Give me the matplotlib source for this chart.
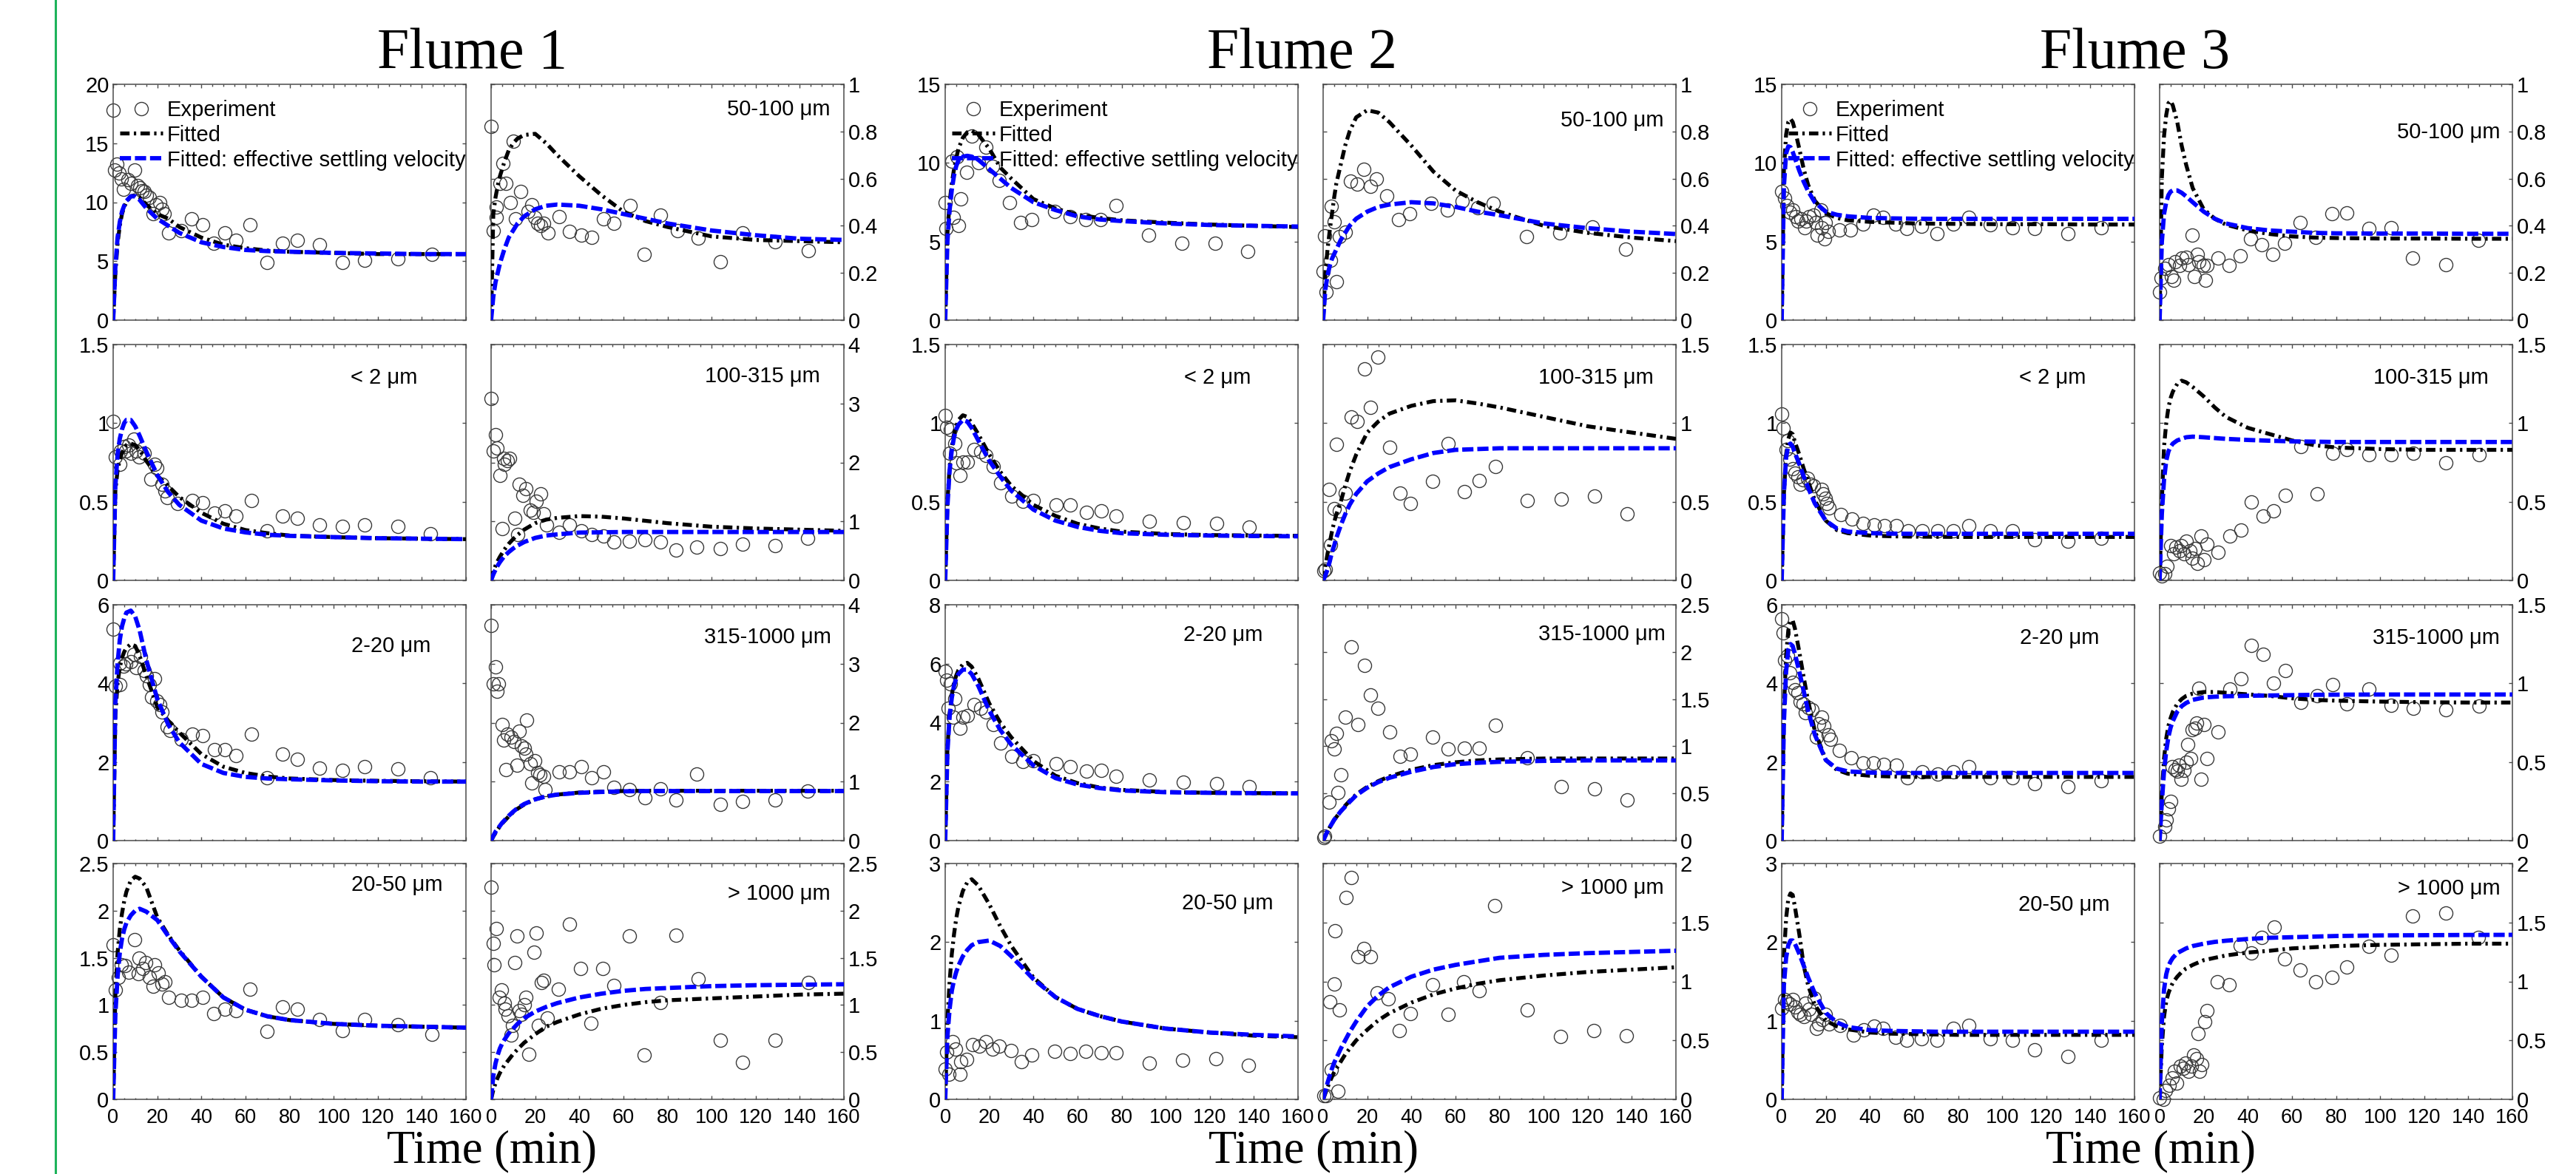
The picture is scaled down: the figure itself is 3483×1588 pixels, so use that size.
import matplotlib
matplotlib.use('Agg')
import matplotlib.pyplot as plt
from matplotlib.lines import Line2D
from matplotlib.ticker import MultipleLocator, FuncFormatter

plt.rcParams['font.family'] = ['Liberation Sans', 'DejaVu Sans']

# times of the fitted curves (min)
t_fit = [0, 1, 2, 3, 4, 5, 6, 8, 10, 12, 15, 20, 25, 30, 40, 50, 60, 70, 80, 100, 120, 140, 160]

# ---------------- Flume 1 ----------------
f1_total_exp = [(0, 17.8), (0.7, 12.7), (1.7, 13.2), (2.7, 12.5), (3.7, 12.0), (4.7, 11.1), (6.8, 11.9), (8, 11.6),
                (9.8, 12.7), (11, 11.4), (12, 11.2), (13, 11.0), (14, 10.9), (15, 10.6), (16.6, 10.4), (18, 9.0),
                (19.5, 9.8), (21, 10.0), (22, 9.4), (23, 9.0), (25, 7.4), (31, 7.6), (35.4, 8.6), (40.5, 8.1),
                (45.5, 6.5), (50.5, 7.4), (55.6, 6.8), (62, 8.1), (69.7, 4.9), (76.8, 6.5), (83.6, 6.8), (93.5, 6.4),
                (104, 4.9), (114, 5.1), (129, 5.2), (144.5, 5.6)]
f1_total_fit = [0, 4.0, 6.5, 8.0, 9.0, 9.6, 10.0, 10.5, 10.6, 10.4, 9.8, 9.0, 8.6, 7.9, 7.0, 6.4, 6.1, 5.9, 5.8, 5.7, 5.6, 5.6, 5.6]
f1_total_eff = [0, 4.5, 7.0, 8.3, 9.2, 9.7, 10.1, 10.5, 10.5, 10.2, 9.5, 8.6, 8.0, 7.4, 6.6, 6.2, 5.95, 5.85, 5.8, 5.7, 5.65, 5.6, 5.6]

f1_50_exp = [(0, 0.82), (1, 0.38), (2.2, 0.48), (2.2, 0.435), (4.1, 0.58), (5.2, 0.665), (6.6, 0.58), (8.6, 0.5),
             (10, 0.76), (11.1, 0.43), (13.4, 0.545), (16.9, 0.46), (18.6, 0.49), (19.9, 0.435), (21.2, 0.41),
             (22.4, 0.4), (23.7, 0.41), (25.7, 0.37), (30.7, 0.44), (35.6, 0.375), (40.8, 0.36), (45.6, 0.35),
             (50.9, 0.43), (55.7, 0.41), (62.9, 0.487), (69.6, 0.28), (76.8, 0.446), (84.4, 0.378), (93.8, 0.347),
             (104, 0.248), (114, 0.37), (128.7, 0.332), (144, 0.295)]
f1_50_fit = [0, 0.45, 0.52, 0.57, 0.61, 0.64, 0.67, 0.72, 0.75, 0.77, 0.785, 0.79, 0.75, 0.70, 0.61, 0.53, 0.46, 0.42, 0.395, 0.355, 0.34, 0.335, 0.33]
f1_50_eff = [0, 0.1, 0.16, 0.2, 0.24, 0.27, 0.3, 0.35, 0.38, 0.41, 0.44, 0.47, 0.485, 0.49, 0.485, 0.47, 0.45, 0.43, 0.41, 0.38, 0.36, 0.345, 0.34]

f1_lt2_exp = [(0, 1.01), (1.1, 0.785), (3, 0.74), (3.4, 0.825), (5.1, 0.85), (5.8, 0.825), (7, 0.86), (8.1, 0.81),
              (9.4, 0.9), (10.5, 0.825), (11.7, 0.785), (14.1, 0.81), (17, 0.645), (18.8, 0.74), (19.9, 0.715),
              (22.3, 0.61), (23.5, 0.57), (24.6, 0.525), (29.3, 0.487), (36, 0.51), (40.7, 0.495), (45.8, 0.43),
              (50.6, 0.44), (55.8, 0.41), (62.8, 0.51), (69.9, 0.314), (76.9, 0.41), (83.6, 0.393), (93.5, 0.353),
              (104, 0.345), (114, 0.353), (129, 0.345), (144, 0.298)]
f1_lt2_fit = [0, 0.57, 0.7, 0.77, 0.81, 0.84, 0.86, 0.87, 0.86, 0.83, 0.76, 0.665, 0.6, 0.53, 0.43, 0.36, 0.32, 0.3, 0.285, 0.275, 0.268, 0.265, 0.262]
f1_lt2_eff = [0, 0.6, 0.8, 0.9, 0.96, 1.0, 1.02, 1.02, 0.98, 0.92, 0.82, 0.67, 0.56, 0.48, 0.38, 0.33, 0.305, 0.29, 0.283, 0.275, 0.268, 0.265, 0.262]

f1_100_exp = [(0, 3.08), (0.9, 2.2), (1.9, 2.47), (2.8, 2.24), (3.9, 1.78), (5, 0.88), (5.6, 2.07), (6.1, 1.97),
              (7.3, 2.03), (8.5, 2.07), (10.9, 1.05), (12, 0.775), (12.7, 1.63), (14.4, 1.445), (15.6, 1.55),
              (17.9, 1.19), (19.1, 1.15), (20.3, 1.34), (22.6, 1.47), (23.8, 1.13), (25, 0.94), (30.9, 0.82),
              (35.6, 0.94), (41, 0.84), (45.7, 0.775), (50.9, 0.75), (55.6, 0.65), (62.7, 0.67), (69.7, 0.69),
              (76.8, 0.65), (83.9, 0.52), (93.3, 0.565), (104, 0.545), (114, 0.61), (128.8, 0.586), (143.6, 0.71)]
f1_100_fit = [0, 0.15, 0.25, 0.33, 0.4, 0.46, 0.52, 0.62, 0.7, 0.77, 0.86, 0.97, 1.03, 1.06, 1.09, 1.08, 1.05, 1.01, 0.97, 0.91, 0.88, 0.86, 0.84]
f1_100_eff = [0, 0.1, 0.18, 0.25, 0.31, 0.36, 0.41, 0.48, 0.54, 0.59, 0.65, 0.72, 0.76, 0.78, 0.81, 0.815, 0.82, 0.82, 0.82, 0.82, 0.82, 0.82, 0.82]

f1_2_20_exp = [(0, 5.37), (1.1, 3.93), (3, 3.96), (3, 4.52), (4.6, 4.43), (5.8, 4.5), (8.1, 4.55), (9.4, 4.74),
               (10.5, 4.4), (12.4, 4.68), (14.1, 4.33), (15.2, 4.2), (16.4, 3.96), (17.5, 3.64), (18.8, 4.12),
               (19.9, 3.55), (21.1, 3.46), (22.3, 3.27), (24.6, 2.89), (25.8, 2.8), (31, 2.58), (36, 2.7),
               (40.7, 2.67), (45.8, 2.32), (50.6, 2.32), (55.8, 2.17), (62.8, 2.7), (69.9, 1.6), (76.9, 2.2),
               (83.6, 2.07), (93.5, 1.85), (104, 1.79), (114, 1.88), (129, 1.82), (144, 1.6)]
f1_2_20_fit = [0, 3.2, 4.0, 4.4, 4.65, 4.8, 4.9, 5.0, 4.95, 4.7, 4.2, 3.4, 3.05, 2.75, 2.2, 1.88, 1.72, 1.63, 1.58, 1.54, 1.52, 1.51, 1.5]
f1_2_20_eff = [0, 3.5, 4.5, 5.1, 5.45, 5.65, 5.8, 5.85, 5.7, 5.35, 4.6, 3.6, 2.95, 2.5, 1.95, 1.72, 1.62, 1.58, 1.56, 1.53, 1.51, 1.5, 1.5]

f1_315_exp = [(0, 3.65), (0.9, 2.66), (1.9, 2.95), (2.8, 2.53), (3.3, 2.66), (5, 1.97), (5.6, 1.7), (6.7, 1.21),
              (7.3, 1.8), (9.2, 1.76), (10.4, 1.68), (11.6, 1.28), (12.7, 1.86), (13.6, 1.61), (15.1, 1.57),
              (15.6, 1.47), (16.2, 2.05), (17.9, 1.3), (18.4, 0.98), (19.8, 1.36), (21, 1.15), (22, 1.11),
              (23.8, 1.09), (24.5, 0.86), (30.9, 1.17), (35.6, 1.17), (41, 1.26), (45.7, 1.07), (50.9, 1.17),
              (55.6, 0.9), (62.7, 0.86), (69.7, 0.73), (76.8, 0.88), (83.9, 0.69), (93.3, 1.13), (104, 0.61),
              (114, 0.67), (128.8, 0.69), (143.6, 0.84)]
f1_315_fit = [0, 0.07, 0.13, 0.19, 0.24, 0.29, 0.33, 0.41, 0.48, 0.54, 0.61, 0.7, 0.75, 0.78, 0.815, 0.83, 0.84, 0.845, 0.845, 0.845, 0.845, 0.845, 0.845]
f1_315_eff = [0, 0.08, 0.15, 0.2, 0.25, 0.3, 0.34, 0.42, 0.49, 0.55, 0.62, 0.7, 0.75, 0.78, 0.81, 0.825, 0.835, 0.84, 0.84, 0.84, 0.84, 0.84, 0.84]

f1_20_50_exp = [(0, 1.64), (1, 1.16), (2.2, 1.29), (3.7, 1.43), (5.4, 1.42), (7.2, 1.35), (9.8, 1.69), (11.3, 1.33),
                (11.8, 1.5), (13.3, 1.39), (14.8, 1.45), (16.4, 1.29), (18, 1.2), (18.9, 1.43), (20.6, 1.34),
                (22, 1.22), (23.4, 1.25), (25, 1.08), (31, 1.05), (35.4, 1.05), (40.5, 1.08), (45.5, 0.91),
                (50.5, 0.96), (55.6, 0.94), (62, 1.17), (69.7, 0.72), (76.8, 0.98), (83.6, 0.96), (93.5, 0.85),
                (104, 0.73), (114, 0.85), (129, 0.79), (144.5, 0.69)]
f1_20_50_fit = [0, 1.1, 1.55, 1.8, 1.97, 2.1, 2.2, 2.32, 2.36, 2.34, 2.25, 1.93, 1.74, 1.58, 1.3, 1.08, 0.95, 0.88, 0.84, 0.8, 0.78, 0.77, 0.76]
f1_20_50_eff = [0, 0.9, 1.3, 1.55, 1.7, 1.8, 1.87, 1.95, 2.0, 2.02, 1.99, 1.9, 1.73, 1.57, 1.3, 1.08, 0.95, 0.88, 0.84, 0.8, 0.78, 0.77, 0.76]

f1_1000_exp = [(0, 2.25), (1, 1.65), (1.5, 1.43), (2.5, 1.81), (3.8, 1.08), (4.6, 1.16), (6, 1.02), (6.5, 0.96),
               (7.6, 0.885), (9.1, 0.68), (9.6, 0.78), (10.8, 1.45), (11.6, 1.73), (12.6, 0.94), (13.8, 0.9),
               (15.1, 1.0), (15.9, 1.08), (17.1, 0.48), (19.6, 1.56), (20.4, 1.76), (21.6, 0.78), (22.7, 1.24),
               (23.7, 1.26), (25.4, 0.86), (30.6, 1.17), (35.4, 1.86), (40.6, 1.39), (45.4, 0.81), (50.6, 1.39),
               (55.7, 1.21), (62.8, 1.73), (69.6, 0.47), (76.8, 1.03), (83.8, 1.74), (93.8, 1.28), (104, 0.625),
               (114, 0.39), (128.7, 0.625), (144, 1.24)]
f1_1000_fit = [0, 0.1, 0.17, 0.23, 0.28, 0.32, 0.36, 0.42, 0.48, 0.53, 0.6, 0.69, 0.77, 0.82, 0.9, 0.96, 1.0, 1.03, 1.05, 1.07, 1.09, 1.11, 1.12]
f1_1000_eff = [0, 0.25, 0.38, 0.47, 0.54, 0.59, 0.63, 0.7, 0.75, 0.8, 0.86, 0.93, 0.98, 1.02, 1.08, 1.12, 1.15, 1.17, 1.18, 1.2, 1.21, 1.215, 1.22]

# ---------------- Flume 2 ----------------
f2_total_exp = [(0, 7.5), (0.4, 5.85), (2.9, 10.1), (3.6, 6.55), (5.2, 10.4), (6, 6.0), (7, 7.7), (9.7, 9.4),
                (12.2, 11.7), (15.2, 10.0), (18.4, 11.0), (21.4, 9.8), (24.4, 8.9), (29.3, 7.5), (34.3, 6.2),
                (39.3, 6.4), (49.5, 6.9), (56.7, 6.6), (63.6, 6.4), (70.5, 6.4), (77.5, 7.3), (92.3, 5.4),
                (107.4, 4.9), (122.3, 4.9), (137.2, 4.35)]
f2_total_fit = [0, 5.5, 7.5, 8.7, 9.6, 10.3, 10.9, 11.6, 11.95, 12.05, 11.8, 10.9, 9.7, 9.0, 7.7, 7.1, 6.7, 6.5, 6.35, 6.2, 6.08, 6.0, 5.92]
f2_total_eff = [0, 5.0, 7.0, 8.3, 9.2, 9.8, 10.15, 10.4, 10.45, 10.4, 10.2, 9.6, 9.0, 8.4, 7.5, 7.0, 6.6, 6.4, 6.3, 6.15, 6.05, 6.0, 5.95]

f2_50_exp = [(0, 0.206), (0.7, 0.358), (1.2, 0.12), (3.2, 0.253), (3.7, 0.484), (4.9, 0.416), (6.2, 0.164),
             (7.4, 0.353), (9.9, 0.374), (12.4, 0.588), (15.4, 0.578), (18.6, 0.64), (21.5, 0.568), (24, 0.6),
             (29, 0.526), (34.2, 0.426), (39.1, 0.452), (49, 0.494), (56.2, 0.468), (63.2, 0.505), (70.1, 0.478),
             (77, 0.494), (92.2, 0.353), (107.3, 0.369), (122.2, 0.395), (137.1, 0.3)]
f2_50_fit = [0, 0.2, 0.3, 0.38, 0.45, 0.52, 0.58, 0.66, 0.74, 0.8, 0.86, 0.89, 0.88, 0.84, 0.74, 0.63, 0.55, 0.5, 0.46, 0.4, 0.37, 0.35, 0.335]
f2_50_eff = [0, 0.13, 0.19, 0.23, 0.26, 0.28, 0.3, 0.34, 0.37, 0.4, 0.43, 0.46, 0.48, 0.49, 0.5, 0.495, 0.48, 0.46, 0.445, 0.41, 0.39, 0.375, 0.365]

f2_lt2_exp = [(0, 1.05), (0.7, 0.975), (1.9, 0.81), (2.2, 0.96), (4.4, 0.87), (4.9, 0.746), (6.8, 0.668), (8, 0.754),
              (10.1, 0.754), (13.1, 0.83), (16, 0.817), (18.6, 0.793), (21.9, 0.723), (25, 0.62), (30.2, 0.534),
              (35.1, 0.503), (39.8, 0.51), (50.2, 0.479), (56.8, 0.479), (63.9, 0.432), (70.9, 0.44), (77.5, 0.408),
              (92.6, 0.377), (107.9, 0.369), (123, 0.361), (137.8, 0.338)]
f2_lt2_fit = [0, 0.5, 0.72, 0.85, 0.93, 0.98, 1.02, 1.05, 1.04, 1.0, 0.93, 0.8, 0.69, 0.6, 0.48, 0.41, 0.36, 0.33, 0.31, 0.295, 0.288, 0.285, 0.283]
f2_lt2_eff = [0, 0.47, 0.7, 0.83, 0.91, 0.96, 0.99, 1.02, 1.01, 0.97, 0.89, 0.76, 0.66, 0.57, 0.45, 0.38, 0.34, 0.315, 0.3, 0.29, 0.285, 0.282, 0.28]

f2_100_exp = [(0.5, 0.06), (0.9, 0.07), (2.7, 0.58), (3.2, 0.228), (5.1, 0.455), (6, 0.864), (7.4, 0.44), (10.2, 0.557),
              (12.6, 1.037), (15.4, 1.013), (18.9, 1.343), (21.5, 1.1), (24.8, 1.42), (30.2, 0.848), (34.9, 0.557),
              (39.6, 0.487), (49.7, 0.628), (56.8, 0.872), (63.9, 0.565), (70.7, 0.636), (78, 0.723), (92.6, 0.51),
              (107.9, 0.518), (123.2, 0.534), (138, 0.424)]
f2_100_fit = [0, 0.09, 0.17, 0.24, 0.31, 0.37, 0.42, 0.5, 0.6, 0.69, 0.8, 0.94, 1.01, 1.06, 1.11, 1.14, 1.145, 1.125, 1.1, 1.04, 0.98, 0.94, 0.9]
f2_100_eff = [0, 0.03, 0.07, 0.12, 0.18, 0.22, 0.27, 0.35, 0.42, 0.48, 0.55, 0.63, 0.68, 0.72, 0.77, 0.81, 0.83, 0.835, 0.84, 0.84, 0.84, 0.84, 0.84]

f2_2_20_exp = [(0, 5.74), (0.7, 5.44), (1.4, 4.48), (2.2, 5.32), (3.8, 4.19), (4.4, 4.82), (6.8, 3.81), (8, 4.19),
               (10.1, 4.23), (13.1, 4.61), (16, 4.48), (18.6, 4.36), (21.9, 3.94), (25, 3.31), (30.2, 2.85),
               (35.1, 2.68), (39.8, 2.72), (50.2, 2.6), (56.8, 2.51), (63.9, 2.35), (70.9, 2.39), (77.5, 2.18),
               (92.6, 2.05), (107.9, 1.97), (123, 1.93), (137.8, 1.84)]
f2_2_20_fit = [0, 3.1, 4.3, 4.95, 5.35, 5.6, 5.78, 5.98, 6.03, 5.9, 5.5, 4.65, 4.0, 3.5, 2.7, 2.2, 1.95, 1.8, 1.72, 1.65, 1.62, 1.61, 1.6]
f2_2_20_eff = [0, 3.0, 4.2, 4.85, 5.25, 5.5, 5.65, 5.8, 5.8, 5.65, 5.25, 4.4, 3.75, 3.25, 2.55, 2.12, 1.9, 1.78, 1.7, 1.64, 1.62, 1.61, 1.6]

f2_315_exp = [(0.5, 0.03), (0.8, 0.05), (2.7, 0.406), (3.7, 1.06), (5.1, 0.97), (6, 1.14), (6.8, 0.51), (7.9, 0.694),
              (10.2, 1.31), (12.6, 2.05), (15.6, 1.23), (18.9, 1.86), (21.5, 1.54), (24.8, 1.4), (30.2, 1.15),
              (34.9, 0.89), (39.6, 0.916), (49.7, 1.1), (56.8, 0.97), (63.9, 0.98), (70.7, 0.98), (78, 1.22),
              (92.6, 0.877), (107.9, 0.576), (123.2, 0.55), (138, 0.43)]
f2_315_fit = [0, 0.05, 0.1, 0.14, 0.18, 0.22, 0.25, 0.31, 0.37, 0.42, 0.49, 0.57, 0.63, 0.68, 0.75, 0.8, 0.83, 0.85, 0.86, 0.87, 0.87, 0.87, 0.87]
f2_315_eff = [0, 0.05, 0.1, 0.14, 0.18, 0.22, 0.25, 0.31, 0.36, 0.41, 0.48, 0.56, 0.62, 0.665, 0.73, 0.78, 0.81, 0.825, 0.835, 0.845, 0.85, 0.85, 0.85]

f2_20_50_exp = [(0, 0.386), (0.7, 0.6), (1.7, 0.32), (3.2, 0.73), (4.7, 0.64), (6.7, 0.32), (7.2, 0.48), (9.7, 0.51),
                (12.4, 0.7), (15.4, 0.68), (18.6, 0.73), (21.6, 0.64), (24.6, 0.68), (29.8, 0.62), (34.4, 0.48),
                (39.4, 0.56), (49.6, 0.61), (56.8, 0.58), (63.7, 0.61), (70.7, 0.59), (77.6, 0.59), (92.6, 0.46),
                (107.7, 0.5), (122.6, 0.52), (137.5, 0.43)]
f2_20_50_fit = [0, 1.0, 1.5, 1.85, 2.1, 2.3, 2.45, 2.65, 2.76, 2.8, 2.72, 2.48, 2.2, 1.95, 1.55, 1.3, 1.15, 1.06, 0.99, 0.9, 0.85, 0.81, 0.79]
f2_20_50_eff = [0, 0.8, 1.15, 1.38, 1.52, 1.62, 1.7, 1.82, 1.9, 1.96, 2.0, 2.02, 1.95, 1.82, 1.53, 1.3, 1.15, 1.06, 0.99, 0.9, 0.85, 0.82, 0.8]

f2_1000_exp = [(0.5, 0.03), (1.5, 0.03), (3, 0.83), (3.7, 0.25), (5, 0.98), (5.5, 1.43), (6.7, 0.07), (7.5, 0.76),
               (10.4, 1.71), (12.9, 1.88), (15.9, 1.21), (18.6, 1.28), (21.5, 1.21), (24.5, 0.9), (29.5, 0.85),
               (34.7, 0.58), (39.7, 0.73), (49.6, 0.97), (56.8, 0.72), (63.7, 1.0), (70.7, 0.92), (77.8, 1.64),
               (92.7, 0.76), (107.8, 0.535), (122.7, 0.58), (137.6, 0.54)]
f2_1000_fit = [0, 0.05, 0.1, 0.15, 0.19, 0.23, 0.26, 0.32, 0.38, 0.43, 0.5, 0.59, 0.67, 0.73, 0.82, 0.89, 0.94, 0.98, 1.01, 1.05, 1.08, 1.1, 1.12]
f2_1000_eff = [0, 0.07, 0.14, 0.2, 0.26, 0.31, 0.35, 0.43, 0.5, 0.57, 0.66, 0.79, 0.88, 0.95, 1.04, 1.1, 1.14, 1.17, 1.2, 1.225, 1.24, 1.25, 1.26]

# ---------------- Flume 3 ----------------
f3_total_exp = [(0, 8.17), (1.3, 7.77), (2.5, 7.3), (3.8, 6.85), (5, 6.99), (6.3, 6.6), (7.5, 6.29), (8.7, 6.44),
                (10.4, 5.89), (11, 6.3), (12.4, 6.6), (14.4, 6.68), (15.5, 6.2), (16.2, 5.42), (17.9, 6.99), (18, 5.9),
                (19.4, 5.19), (19.9, 6.2), (21.2, 5.66), (26.2, 5.74), (31.1, 5.74), (36.8, 6.13), (41.6, 6.68),
                (46, 6.52), (51.6, 6.13), (56.8, 5.82), (63.5, 5.97), (70.5, 5.5), (77.7, 6.13), (85, 6.52),
                (94.6, 6.08), (104.6, 5.89), (114.6, 5.82), (129.7, 5.5), (145, 5.89)]
f3_total_fit = [0, 9.5, 11.8, 12.6, 12.8, 12.6, 12.1, 10.9, 9.6, 8.6, 7.6, 6.8, 6.5, 6.35, 6.25, 6.2, 6.15, 6.13, 6.12, 6.1, 6.1, 6.08, 6.08]
f3_total_eff = [0, 8.5, 10.6, 11.05, 11.0, 10.7, 10.3, 9.5, 8.8, 8.2, 7.5, 6.9, 6.7, 6.6, 6.5, 6.47, 6.45, 6.44, 6.44, 6.44, 6.44, 6.44, 6.44]

f3_50_exp = [(0, 0.12), (0.8, 0.18), (2.2, 0.22), (3.9, 0.236), (5.2, 0.184), (6.4, 0.168), (7.2, 0.247), (8.9, 0.231),
             (10.2, 0.262), (12.2, 0.268), (13.2, 0.236), (14.7, 0.362), (15.7, 0.184), (17.2, 0.278), (17.7, 0.247),
             (19.7, 0.231), (20.7, 0.168), (21.4, 0.231), (26.4, 0.262), (31.4, 0.231), (36.4, 0.273), (41.4, 0.346),
             (46.4, 0.32), (51.4, 0.278), (56.8, 0.325), (63.8, 0.414), (70.8, 0.351), (78, 0.45), (85, 0.456),
             (94.9, 0.388), (104.9, 0.393), (114.8, 0.262), (129.8, 0.236), (144.7, 0.34)]
f3_50_fit = [0, 0.6, 0.78, 0.87, 0.92, 0.93, 0.91, 0.84, 0.74, 0.66, 0.56, 0.47, 0.43, 0.405, 0.38, 0.365, 0.355, 0.35, 0.348, 0.346, 0.346, 0.345, 0.345]
f3_50_eff = [0, 0.33, 0.45, 0.5, 0.53, 0.545, 0.55, 0.55, 0.54, 0.525, 0.5, 0.46, 0.43, 0.41, 0.39, 0.38, 0.375, 0.37, 0.368, 0.367, 0.367, 0.366, 0.366]

f3_lt2_exp = [(0, 1.06), (0.7, 0.97), (1.9, 0.83), (2.6, 0.89), (3.8, 0.77), (5, 0.71), (6.1, 0.68), (7.3, 0.66),
              (8.5, 0.61), (9.7, 0.64), (11.6, 0.65), (13.2, 0.61), (14.4, 0.6), (18, 0.58), (18.7, 0.55), (19.9, 0.52),
              (20.4, 0.49), (21.6, 0.46), (26.8, 0.42), (31.8, 0.39), (37, 0.36), (41.8, 0.355), (46.5, 0.35),
              (52, 0.35), (57.2, 0.315), (63.8, 0.315), (70.7, 0.315), (77.9, 0.315), (85, 0.35), (94.7, 0.315),
              (104.7, 0.315), (114.7, 0.26), (129.7, 0.25), (144.9, 0.27)]
f3_lt2_fit = [0, 0.55, 0.8, 0.9, 0.94, 0.93, 0.88, 0.8, 0.71, 0.63, 0.51, 0.38, 0.32, 0.3, 0.285, 0.28, 0.278, 0.277, 0.276, 0.276, 0.276, 0.276, 0.276]
f3_lt2_eff = [0, 0.55, 0.78, 0.86, 0.87, 0.85, 0.81, 0.74, 0.66, 0.59, 0.49, 0.38, 0.33, 0.31, 0.3, 0.297, 0.296, 0.296, 0.296, 0.296, 0.296, 0.296, 0.296]

f3_100_exp = [(0, 0.047), (1, 0.03), (2.2, 0.04), (3.4, 0.087), (5, 0.22), (6.5, 0.17), (7.4, 0.21), (8.9, 0.19),
              (9.8, 0.22), (11.2, 0.17), (12.2, 0.25), (13.6, 0.19), (14.6, 0.14), (16, 0.2), (17, 0.11), (18.9, 0.28),
              (20.1, 0.13), (21.3, 0.23), (26.6, 0.18), (32, 0.28), (36.8, 0.32), (41.6, 0.5), (46.8, 0.41),
              (51.8, 0.44), (57, 0.54), (64.1, 0.85), (71.3, 0.55), (78.4, 0.81), (85, 0.83), (95, 0.8), (105, 0.8),
              (115, 0.81), (129.7, 0.75), (144.9, 0.8)]
f3_100_fit = [0, 0.5, 0.85, 1.0, 1.1, 1.16, 1.2, 1.25, 1.27, 1.26, 1.23, 1.17, 1.1, 1.04, 0.97, 0.93, 0.89, 0.86, 0.845, 0.835, 0.83, 0.83, 0.83]
f3_100_eff = [0, 0.42, 0.64, 0.76, 0.82, 0.85, 0.87, 0.89, 0.9, 0.91, 0.914, 0.91, 0.905, 0.9, 0.893, 0.888, 0.884, 0.882, 0.88, 0.88, 0.88, 0.88, 0.88]

f3_2_20_exp = [(0, 5.65), (0.7, 5.28), (1.4, 4.58), (2.6, 4.71), (3.8, 4.27), (5, 4.02), (6.1, 3.83), (7.3, 3.76),
               (8.5, 3.54), (9.7, 3.48), (10.9, 3.26), (12, 3.39), (13.7, 3.32), (15.6, 2.63), (16.8, 2.98), (18, 3.14),
               (19.2, 2.91), (21.1, 2.69), (22, 2.57), (26.3, 2.29), (31.5, 2.1), (36.9, 1.97), (41.7, 1.97),
               (46.4, 1.93), (51.9, 1.91), (57.1, 1.59), (63.8, 1.75), (70.7, 1.69), (77.8, 1.75), (85, 1.88),
               (94.7, 1.59), (104.7, 1.59), (114.7, 1.44), (129.7, 1.37), (144.9, 1.53)]
f3_2_20_fit = [0, 3.3, 4.7, 5.35, 5.6, 5.6, 5.4, 4.8, 4.15, 3.55, 2.8, 2.05, 1.8, 1.7, 1.65, 1.63, 1.62, 1.62, 1.62, 1.62, 1.62, 1.62, 1.62]
f3_2_20_eff = [0, 3.0, 4.3, 4.85, 5.0, 4.95, 4.75, 4.3, 3.8, 3.3, 2.7, 2.05, 1.83, 1.76, 1.73, 1.72, 1.72, 1.72, 1.72, 1.72, 1.72, 1.72, 1.72]

f3_315_exp = [(0, 0.03), (2.2, 0.09), (2.9, 0.13), (4.1, 0.2), (5, 0.25), (5.7, 0.47), (6.9, 0.45), (8.1, 0.44),
              (8.8, 0.48), (9.7, 0.39), (11.2, 0.445), (12.1, 0.5), (12.8, 0.61), (14.1, 0.52), (14.8, 0.705),
              (16, 0.713), (16.9, 0.75), (17.7, 0.97), (18.9, 0.39), (20.1, 0.74), (21.3, 0.52), (26.5, 0.69),
              (32, 0.965), (36.8, 1.03), (41.5, 1.24), (46.8, 1.185), (51.8, 1.0), (57, 1.08), (64.1, 0.88),
              (71.3, 0.92), (78.4, 0.99), (85, 0.87), (95, 0.965), (105, 0.86), (115, 0.84), (129.7, 0.83), (144.9, 0.855)]
f3_315_fit = [0, 0.3, 0.52, 0.65, 0.73, 0.78, 0.82, 0.87, 0.9, 0.92, 0.935, 0.945, 0.945, 0.94, 0.93, 0.92, 0.905, 0.895, 0.89, 0.884, 0.88, 0.878, 0.878]
f3_315_eff = [0, 0.24, 0.44, 0.57, 0.66, 0.72, 0.76, 0.82, 0.855, 0.875, 0.895, 0.91, 0.915, 0.918, 0.921, 0.923, 0.925, 0.927, 0.928, 0.929, 0.929, 0.929, 0.929]

f3_20_50_exp = [(0, 1.16), (1.2, 1.27), (2.5, 1.24), (3.7, 1.21), (5, 1.27), (6.2, 1.18), (7.5, 1.11), (8.5, 1.08),
                (9.9, 1.05), (10.9, 1.22), (12.4, 1.15), (13.4, 1.08), (14.9, 1.29), (15.9, 0.9), (16.7, 0.96),
                (18.4, 1.02), (19.9, 1.08), (21.6, 0.96), (26.6, 0.94), (32.4, 0.82), (37.3, 0.88), (42, 0.93),
                (46, 0.9), (51.6, 0.79), (56.8, 0.755), (63.5, 0.77), (70.5, 0.755), (77.7, 0.9), (85, 0.94),
                (94.6, 0.77), (104.6, 0.755), (114.6, 0.63), (129.7, 0.55), (145, 0.755)]
f3_20_50_fit = [0, 1.8, 2.3, 2.55, 2.62, 2.6, 2.45, 2.1, 1.7, 1.45, 1.2, 1.0, 0.93, 0.89, 0.85, 0.835, 0.83, 0.825, 0.82, 0.82, 0.82, 0.82, 0.82]
f3_20_50_eff = [0, 1.45, 1.8, 1.96, 2.02, 2.02, 1.98, 1.85, 1.7, 1.55, 1.35, 1.1, 0.98, 0.92, 0.88, 0.87, 0.865, 0.86, 0.86, 0.86, 0.86, 0.86, 0.86]

f3_1000_exp = [(0, 0.01), (1.8, 0.0), (2.6, 0.075), (4.3, 0.117), (5.6, 0.18), (6.8, 0.24), (7.6, 0.14), (9.3, 0.284),
               (10.6, 0.263), (11.8, 0.305), (13, 0.24), (14.3, 0.284), (15.5, 0.378), (16.7, 0.347), (17.4, 0.555),
               (18, 0.24), (19.2, 0.294), (20.4, 0.66), (21.6, 0.754), (26.1, 0.994), (31.6, 0.973), (36.5, 1.307),
               (41.5, 1.244), (46.4, 1.37), (51.9, 1.463), (56.8, 1.19), (63.8, 1.098), (70.8, 0.994), (78, 1.035),
               (85, 1.12), (94.9, 1.296), (104.9, 1.223), (114.8, 1.557), (129.8, 1.578), (144.7, 1.37)]
f3_1000_fit = [0, 0.45, 0.7, 0.83, 0.9, 0.95, 0.99, 1.04, 1.08, 1.11, 1.14, 1.18, 1.2, 1.22, 1.245, 1.26, 1.28, 1.29, 1.3, 1.31, 1.315, 1.32, 1.32]
f3_1000_eff = [0, 0.65, 0.93, 1.06, 1.13, 1.17, 1.2, 1.24, 1.26, 1.28, 1.3, 1.32, 1.335, 1.345, 1.36, 1.37, 1.375, 1.38, 1.385, 1.39, 1.392, 1.394, 1.395]

flume_names = ['Flume 1', 'Flume 2', 'Flume 3']
size_labels = [None, '50-100 \u03bcm', '< 2 \u03bcm', '100-315 \u03bcm',
               '2-20 \u03bcm', '315-1000 \u03bcm', '20-50 \u03bcm', '> 1000 \u03bcm']

# panels in reading order: row 0 (total, 50-100), row 1 (<2, 100-315), ...
panels = [
    [(f1_total_exp, f1_total_fit, f1_total_eff, 20, 5), (f1_50_exp, f1_50_fit, f1_50_eff, 1, 0.2),
     (f1_lt2_exp, f1_lt2_fit, f1_lt2_eff, 1.5, 0.5), (f1_100_exp, f1_100_fit, f1_100_eff, 4, 1),
     (f1_2_20_exp, f1_2_20_fit, f1_2_20_eff, 6, 2), (f1_315_exp, f1_315_fit, f1_315_eff, 4, 1),
     (f1_20_50_exp, f1_20_50_fit, f1_20_50_eff, 2.5, 0.5), (f1_1000_exp, f1_1000_fit, f1_1000_eff, 2.5, 0.5)],
    [(f2_total_exp, f2_total_fit, f2_total_eff, 15, 5), (f2_50_exp, f2_50_fit, f2_50_eff, 1, 0.2),
     (f2_lt2_exp, f2_lt2_fit, f2_lt2_eff, 1.5, 0.5), (f2_100_exp, f2_100_fit, f2_100_eff, 1.5, 0.5),
     (f2_2_20_exp, f2_2_20_fit, f2_2_20_eff, 8, 2), (f2_315_exp, f2_315_fit, f2_315_eff, 2.5, 0.5),
     (f2_20_50_exp, f2_20_50_fit, f2_20_50_eff, 3, 1), (f2_1000_exp, f2_1000_fit, f2_1000_eff, 2, 0.5)],
    [(f3_total_exp, f3_total_fit, f3_total_eff, 15, 5), (f3_50_exp, f3_50_fit, f3_50_eff, 1, 0.2),
     (f3_lt2_exp, f3_lt2_fit, f3_lt2_eff, 1.5, 0.5), (f3_100_exp, f3_100_fit, f3_100_eff, 1.5, 0.5),
     (f3_2_20_exp, f3_2_20_fit, f3_2_20_eff, 6, 2), (f3_315_exp, f3_315_fit, f3_315_eff, 1.5, 0.5),
     (f3_20_50_exp, f3_20_50_fit, f3_20_50_eff, 3, 1), (f3_1000_exp, f3_1000_fit, f3_1000_eff, 2, 0.5)],
]

# where the size label sits in each panel (axes fraction, right aligned)
label_pos = [
    [None, (0.962, 0.894), (0.863, 0.86), (0.933, 0.865), (0.90, 0.825), (0.964, 0.862), (0.935, 0.91), (0.962, 0.87)],
    [None, (0.966, 0.847), (0.866, 0.86), (0.937, 0.86), (0.90, 0.87), (0.970, 0.875), (0.929, 0.83), (0.966, 0.897)],
    [None, (0.965, 0.795), (0.862, 0.86), (0.932, 0.86), (0.90, 0.86), (0.965, 0.86), (0.930, 0.825), (0.965, 0.893)],
]

W, H = 3483, 1588
fig = plt.figure(figsize=(W / 100, H / 100), dpi=100)

col_x = [[153, 664], [1278, 1789], [2409, 2920]]
row_y = [114, 466, 818, 1168]
ax_w, ax_h = 477, 319
title_x = [638, 1760, 2886]
xlabel_x = [665, 1776, 2908]

fmt = FuncFormatter(lambda v, p: '%g' % round(v, 6))
spine_col = '#4a4a4a'

for fi in range(3):
    for k, (exp, fit, eff, ymax, ystep) in enumerate(panels[fi]):
        r, c = k // 2, k % 2
        x0, y0 = col_x[fi][c], row_y[r]
        ax = fig.add_axes([x0 / W, 1 - (y0 + ax_h) / H, ax_w / W, ax_h / H])

        te = [p[0] for p in exp]
        ye = [p[1] for p in exp]
        ax.plot(te, ye, 'o', mfc='none', mec='#3a3a3a', mew=1.0, ms=13, clip_on=False,
                label='Experiment', zorder=2)
        l1, = ax.plot(t_fit, fit, color='black', lw=3.8, label='Fitted', zorder=3)
        l1.set_dashes([2.4, 1.1, 0.6, 1.1])
        l2, = ax.plot(t_fit, eff, color='blue', lw=4.2, label='Fitted: effective settling velocity', zorder=4)
        l2.set_dashes([2.6, 0.9])

        ax.set_xlim(0, 160)
        ax.set_ylim(0, ymax)
        ax.xaxis.set_major_locator(MultipleLocator(20))
        ax.xaxis.set_minor_locator(MultipleLocator(5))
        ax.yaxis.set_major_locator(MultipleLocator(ystep))
        ax.yaxis.set_major_formatter(fmt)
        ax.tick_params(which='both', direction='in', top=True, bottom=True, left=True, right=True,
                       color=spine_col, labelcolor='black', pad=4)
        ax.tick_params(which='major', length=3.6, width=1)
        ax.tick_params(which='minor', length=1.8, width=1)
        ax.tick_params(axis='y', labelleft=(c == 0), labelright=(c == 1), labelsize=21)
        ax.tick_params(axis='x', labelbottom=(r == 3), pad=8.5, labelsize=19.5)
        for s in ax.spines.values():
            s.set_color(spine_col)
            s.set_linewidth(1.1)

        if k == 0:
            ax.legend(loc='upper left', bbox_to_anchor=(0.0, 0.962), frameon=False, fontsize=21,
                      handlelength=2.0, handletextpad=0.2, borderpad=0.3, borderaxespad=0,
                      labelspacing=0.2)
        else:
            lx, ly = label_pos[fi][k]
            ax.text(lx, ly, size_labels[k], transform=ax.transAxes, ha='right', va='center', fontsize=21)

    fig.text(title_x[fi] / W, 1 - 92 / H, flume_names[fi], ha='center', va='baseline',
             fontsize=56, family='Liberation Serif')
    fig.text(xlabel_x[fi] / W, 1 - 1572 / H, 'Time (min)', ha='center', va='baseline',
             fontsize=45, family='Liberation Serif')

# green rule along the left edge
fig.add_artist(Line2D([75 / W, 75 / W], [0, 1], color='#1db35a', lw=2.2))

fig.savefig('out.png', dpi=100)
